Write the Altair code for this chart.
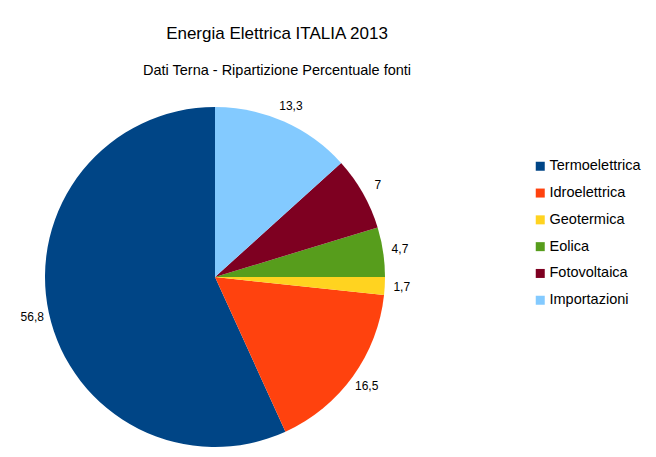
import altair as alt
import pandas as pd

categories = ["Termoelettrica", "Idroelettrica", "Geotermica", "Eolica", "Fotovoltaica", "Importazioni"]
values = [56.8, 16.5, 1.7, 4.7, 7.0, 13.3]
colors = ["#004586", "#ff420e", "#ffd320", "#579d1c", "#7e0021", "#83caff"]

labels = [f"{v:g}".replace(".", ",") for v in values]
df = pd.DataFrame({
    "fonte": categories,
    "valore": values,
    "etichetta": labels,
    "idx": list(range(len(categories))),
})

FONT = "Liberation Sans"

base = alt.Chart(df).encode(
    theta=alt.Theta("valore:Q", stack=True),
    order=alt.Order("idx:Q", sort="descending"),
)

pie = base.mark_arc(radius=170, stroke=None).encode(
    color=alt.Color(
        "fonte:N",
        scale=alt.Scale(domain=categories, range=colors),
        sort=categories,
        legend=alt.Legend(
            title=None,
            orient="none",
            legendX=525,
            legendY=61,
            symbolType="square",
            symbolSize=81,
            symbolStrokeWidth=0,
            labelFont=FONT,
            labelFontSize=14.5,
            labelColor="#000000",
            labelOffset=2,
            rowPadding=11.8,
            padding=0,
        ),
    )
)

text = base.mark_text(radius=187, font=FONT, fontSize=12, color="#000000",
                      align="center", baseline="middle").encode(
    text="etichetta:N"
)

chart = (
    alt.layer(pie, text)
    .properties(
        width=414,
        height=358,
        autosize=alt.AutoSizeParams(type="none"),
        padding={"left": 0, "top": 90, "right": 226, "bottom": 0},
        background="#ffffff",
        title=alt.TitleParams(
            text="Energia Elettrica ITALIA 2013",
            subtitle="Dati Terna - Ripartizione Percentuale fonti",
            font=FONT,
            fontSize=17,
            fontWeight="normal",
            color="#000000",
            subtitleFont=FONT,
            subtitleFontSize=14.5,
            subtitleColor="#000000",
            subtitlePadding=21,
            anchor="middle",
            frame="group",
            dx=62,
            offset=20,
        ),
    )
    .configure_view(stroke=None)
)

chart.save("out.html", embed_options={"renderer": "svg", "actions": False})
